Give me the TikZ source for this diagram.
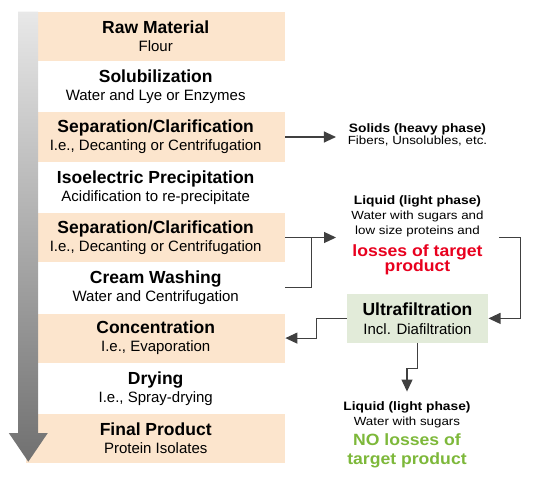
\documentclass[tikz,border=0pt]{standalone}
\usepackage{fontspec}
\setmainfont{Liberation Sans}
\newfontfamily\rsA[FakeStretch=1.13]{Liberation Sans}
\newfontfamily\rsB[FakeStretch=1.08]{Liberation Sans}
\usetikzlibrary{arrows.meta,fit}
\definecolor{peach}{HTML}{FCE5CD}
\definecolor{sage}{HTML}{E2EBD9}
\definecolor{lossred}{HTML}{E8001E}
\definecolor{okgreen}{HTML}{7DB83A}
\definecolor{conngray}{HTML}{404040}
\newcommand\rowtitle[1]{{\fontsize{17.5}{18}\selectfont\bfseries #1}}
\tikzset{
  rowbox/.style={rectangle, anchor=north west, minimum width=259pt, minimum height=#1,
    inner sep=0pt, align=center, font=\fontsize{15}{18}\selectfont},
  ufbox/.style={rectangle, fill=sage, minimum width=141.6pt, minimum height=48.7pt,
    inner sep=0pt, align=center, font=\fontsize{15}{19}\selectfont},
  smallbold/.style={anchor=base, inner sep=0pt, font=\rsA\fontsize{12.2}{14}\selectfont\bfseries},
  smallreg/.style={anchor=base, inner sep=0pt, font=\rsA\fontsize{11.8}{14}\selectfont},
  bigred/.style={anchor=base, inner sep=0pt, text=lossred, font=\rsB\fontsize{16.3}{18}\selectfont\bfseries},
  biggreen/.style={anchor=base, inner sep=0pt, text=okgreen, font=\rsB\fontsize{16.3}{18}\selectfont\bfseries},
  conn/.style={draw=conngray, line width=1.1pt},
  arrowed/.style={-{Triangle[length=12pt,width=11pt]}},
  blockfit/.style={inner xsep=#1, inner ysep=0pt}
}
\begin{document}
\begin{tikzpicture}[x=1pt,y=-1pt]
\useasboundingbox (0,0) rectangle (540,484);
% process rows
\node[rowbox=49pt, fill=peach] (r0) at (26,11.7) {\rowtitle{Raw Material}\\Flour};
\node[rowbox=51.6pt] (r1) at (26,60.7) {\rowtitle{Solubilization}\\Water and Lye or Enzymes};
\node[rowbox=49pt, fill=peach] (r2) at (26,112.3) {\rowtitle{Separation/Clarification}\\I.e., Decanting or Centrifugation};
\node[rowbox=51.5pt] (r3) at (26,161.3) {\rowtitle{Isoelectric Precipitation}\\Acidification to re-precipitate};
\node[rowbox=49pt, fill=peach] (r4) at (26,212.8) {\rowtitle{Separation/Clarification}\\I.e., Decanting or Centrifugation};
\node[rowbox=51.6pt] (r5) at (26,261.8) {\rowtitle{Cream Washing}\\Water and Centrifugation};
\node[rowbox=49pt, fill=peach] (r6) at (26,313.4) {\rowtitle{Concentration}\\I.e., Evaporation};
\node[rowbox=51.5pt] (r7) at (26,362.4) {\rowtitle{Drying}\\I.e., Spray-drying};
\node[rowbox=49pt, fill=peach] (r8) at (26,413.9) {\rowtitle{Final Product}\\Protein Isolates};
% big process arrow
\shade[top color=black!9, bottom color=black!56]
  (18,11.7) -- (38,11.7) -- (38,433) -- (47.8,433) -- (28.3,461.7)
  -- (8.8,433) -- (18,433) -- cycle;
% solids
\node[smallbold] (sol1) at (417.5,132.7) {Solids (heavy phase)};
\node[smallreg] (sol2) at (417.5,144) {Fibers, Unsolubles, etc.};
\node[blockfit=11.5pt, fit=(sol1)(sol2)] (sol) {};
% liquid with losses
\node[smallbold] (liq1) at (417.5,204.5) {Liquid (light phase)};
\node[smallreg] (liq2) at (417.5,219.5) {Water with sugars and};
\node[smallreg] (liq3) at (417.5,234.5) {low size proteins and};
\node[bigred] (liq4) at (417.5,256.5) {losses of target};
\node[bigred] (liq5) at (417.5,271.5) {product};
\node[blockfit=15pt, fit=(liq1)(liq2)(liq3)(liq4)(liq5)] (liq) {};
% ultrafiltration
\node[ufbox] (uf) at (417.5,318.4) {\rowtitle{Ultrafiltration}\\Incl. Diafiltration};
% liquid without losses
\node[smallbold] (out1) at (407,410.5) {Liquid (light phase)};
\node[smallreg] (out2) at (407,425) {Water with sugars};
\node[biggreen] (out3) at (407,445) {NO losses of};
\node[biggreen] (out4) at (407,464) {target product};
\node[inner xsep=0pt, inner ysep=9.7pt, fit=(out1)(out2)(out3)(out4)] (out) {};
% connectors
\draw[conn, arrowed] (r2.east) -- (r2.east -| sol.west);
\draw[conn, arrowed] (r4.east) -- (r4.east -| liq.west);
\draw[conn] (r5.east) -| ([xshift=25.7pt]r4.east);
\draw[conn, arrowed] (liq.east |- r4.east) -| ([xshift=32.4pt]uf.east) -- (uf.east);
\draw[conn, arrowed] (uf.west) -- ++(-30,0) |- (r6.east);
\draw[conn, arrowed] (uf.south) -- ++(0,25.6) -| (out.north);
\end{tikzpicture}
\end{document}
